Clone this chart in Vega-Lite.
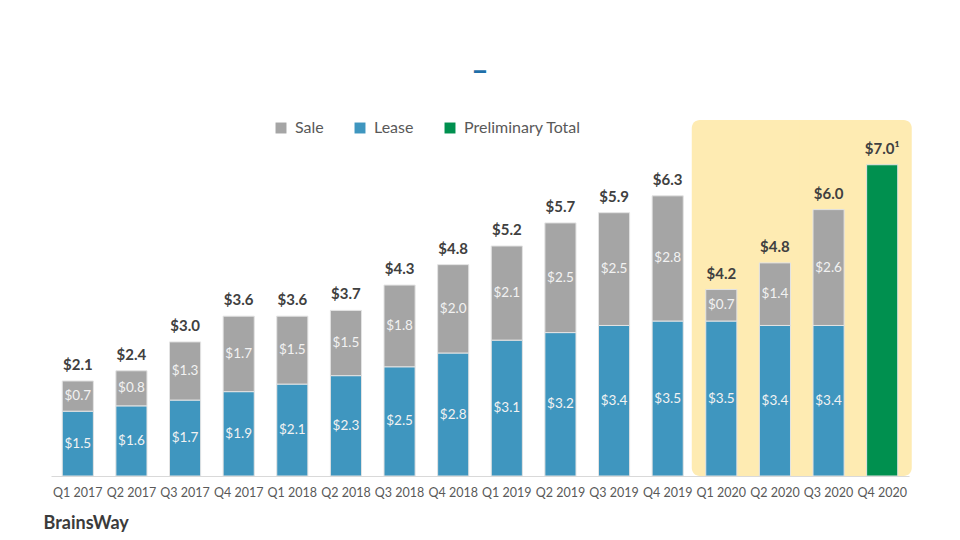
{
  "$schema": "https://vega.github.io/schema/vega-lite/v6.json",
  "width": 858,
  "height": 356,
  "autosize": {"type": "none"},
  "padding": {"left": 51, "top": 120, "right": 51, "bottom": 64},
  "background": "white",
  "title": {"text": "–", "fontSize": 30, "fontWeight": "bold", "color": "#1F6FA8", "font": "Lato", "anchor": "middle", "baseline": "alphabetic", "offset": 9, "frame": "group"},
  "config": {"font": "Lato", "view": {"stroke": null}},
  "data": {"values": [
      {"quarter": "Q1 2017", "type": "Lease", "value": 1.46},
      {"quarter": "Q1 2017", "type": "Sale", "value": 0.68},
      {"quarter": "Q2 2017", "type": "Lease", "value": 1.58},
      {"quarter": "Q2 2017", "type": "Sale", "value": 0.79},
      {"quarter": "Q3 2017", "type": "Lease", "value": 1.71},
      {"quarter": "Q3 2017", "type": "Sale", "value": 1.31},
      {"quarter": "Q4 2017", "type": "Lease", "value": 1.9},
      {"quarter": "Q4 2017", "type": "Sale", "value": 1.7},
      {"quarter": "Q1 2018", "type": "Lease", "value": 2.07},
      {"quarter": "Q1 2018", "type": "Sale", "value": 1.53},
      {"quarter": "Q2 2018", "type": "Lease", "value": 2.26},
      {"quarter": "Q2 2018", "type": "Sale", "value": 1.47},
      {"quarter": "Q3 2018", "type": "Lease", "value": 2.46},
      {"quarter": "Q3 2018", "type": "Sale", "value": 1.84},
      {"quarter": "Q4 2018", "type": "Lease", "value": 2.77},
      {"quarter": "Q4 2018", "type": "Sale", "value": 1.99},
      {"quarter": "Q1 2019", "type": "Lease", "value": 3.06},
      {"quarter": "Q1 2019", "type": "Sale", "value": 2.12},
      {"quarter": "Q2 2019", "type": "Lease", "value": 3.23},
      {"quarter": "Q2 2019", "type": "Sale", "value": 2.47},
      {"quarter": "Q3 2019", "type": "Lease", "value": 3.39},
      {"quarter": "Q3 2019", "type": "Sale", "value": 2.54},
      {"quarter": "Q4 2019", "type": "Lease", "value": 3.49},
      {"quarter": "Q4 2019", "type": "Sale", "value": 2.82},
      {"quarter": "Q1 2020", "type": "Lease", "value": 3.49},
      {"quarter": "Q1 2020", "type": "Sale", "value": 0.71},
      {"quarter": "Q2 2020", "type": "Lease", "value": 3.39},
      {"quarter": "Q2 2020", "type": "Sale", "value": 1.41},
      {"quarter": "Q3 2020", "type": "Lease", "value": 3.39},
      {"quarter": "Q3 2020", "type": "Sale", "value": 2.61},
      {"quarter": "Q4 2020", "type": "Preliminary Total", "value": 7.01, "note": "¹"}
  ]},
  "encoding": {
    "x": {
      "field": "quarter",
      "type": "nominal",
      "scale": {
        "domain": ["Q1 2017", "Q2 2017", "Q3 2017", "Q4 2017", "Q1 2018", "Q2 2018", "Q3 2018", "Q4 2018", "Q1 2019", "Q2 2019", "Q3 2019", "Q4 2019", "Q1 2020", "Q2 2020", "Q3 2020", "Q4 2020"],
        "paddingInner": 0.42,
        "paddingOuter": 0.21
      },
      "axis": {
        "title": "BrainsWay",
        "labelFontSize": 12.5,
        "labelColor": "#595959",
        "labelAngle": 0,
        "labelPadding": 10,
        "ticks": false,
        "domainColor": "#D9D9D9",
        "domainWidth": 1,
        "titleFontSize": 18,
        "titleFontWeight": "bold",
        "titleColor": "#3B3B3B",
        "titleAnchor": "start",
        "titleAlign": "left",
        "titleX": -8,
        "titleY": 52,
        "titleBaseline": "alphabetic"
      }
    }
  },
  "layer": [
    {
      "transform": [
        {"filter": "indexof(['Q1 2020','Q2 2020','Q3 2020','Q4 2020'], datum.quarter) >= 0"},
        {"aggregate": [{"op": "count", "as": "n"}], "groupby": ["quarter"]}
      ],
      "mark": {
        "type": "rect",
        "color": "#FEEBB2",
        "width": {"band": 1.9},
        "cornerRadiusTopLeft": {"expr": "datum.quarter === 'Q1 2020' ? 8 : 0"},
        "cornerRadiusBottomLeft": {"expr": "datum.quarter === 'Q1 2020' ? 8 : 0"},
        "cornerRadiusTopRight": {"expr": "datum.quarter === 'Q4 2020' ? 8 : 0"},
        "cornerRadiusBottomRight": {"expr": "datum.quarter === 'Q4 2020' ? 8 : 0"}
      },
      "encoding": {
        "y": {"datum": 8.018, "type": "quantitative", "axis": null},
        "y2": {"datum": 0}
      }
    },
    {
      "mark": {"type": "bar", "stroke": "#E3E3E3", "strokeWidth": 1},
      "encoding": {
        "y": {"field": "value", "type": "quantitative", "stack": "zero", "scale": {"domain": [0, 8.018], "nice": false, "zero": true}, "axis": null},
        "color": {
          "field": "type",
          "type": "nominal",
          "scale": {"domain": ["Sale", "Lease", "Preliminary Total"], "range": ["#A5A5A5", "#3F96BF", "#00904F"]},
          "legend": {
            "orient": "none",
            "legendX": 222,
            "legendY": 0,
            "direction": "horizontal",
            "title": null,
            "symbolType": "square",
            "symbolSize": 120,
            "symbolStrokeWidth": 0,
            "labelFontSize": 16,
            "labelColor": "#595959",
            "labelFont": "Lato",
            "labelOffset": 6,
            "columnPadding": 28,
            "padding": 0
          }
        },
        "order": {"field": "type", "type": "nominal", "sort": "ascending"}
      }
    },
    {
      "transform": [
        {"filter": "datum.type !== 'Preliminary Total'"},
        {"window": [{"op": "sum", "field": "value", "as": "y1"}], "groupby": ["quarter"], "sort": [{"field": "type", "order": "ascending"}], "frame": [null, 0]},
        {"calculate": "datum.y1 - datum.value / 2", "as": "mid"},
        {"calculate": "'$' + format(datum.value, '.1f')", "as": "label"}
      ],
      "mark": {"type": "text", "color": "#F2F2F2", "fontSize": 13.5, "baseline": "middle"},
      "encoding": {
        "y": {"field": "mid", "type": "quantitative", "axis": null},
        "text": {"field": "label", "type": "nominal"}
      }
    },
    {
      "transform": [
        {"aggregate": [{"op": "sum", "field": "value", "as": "total"}, {"op": "max", "field": "note", "as": "note"}], "groupby": ["quarter"]},
        {"calculate": "'$' + format(datum.total, '.1f') + (datum.note ? datum.note : '')", "as": "label"}
      ],
      "mark": {"type": "text", "color": "#404040", "fontSize": 15, "fontWeight": "bold", "baseline": "alphabetic", "dy": -11},
      "encoding": {
        "y": {"field": "total", "type": "quantitative", "axis": null},
        "text": {"field": "label", "type": "nominal"}
      }
    }
  ]
}
